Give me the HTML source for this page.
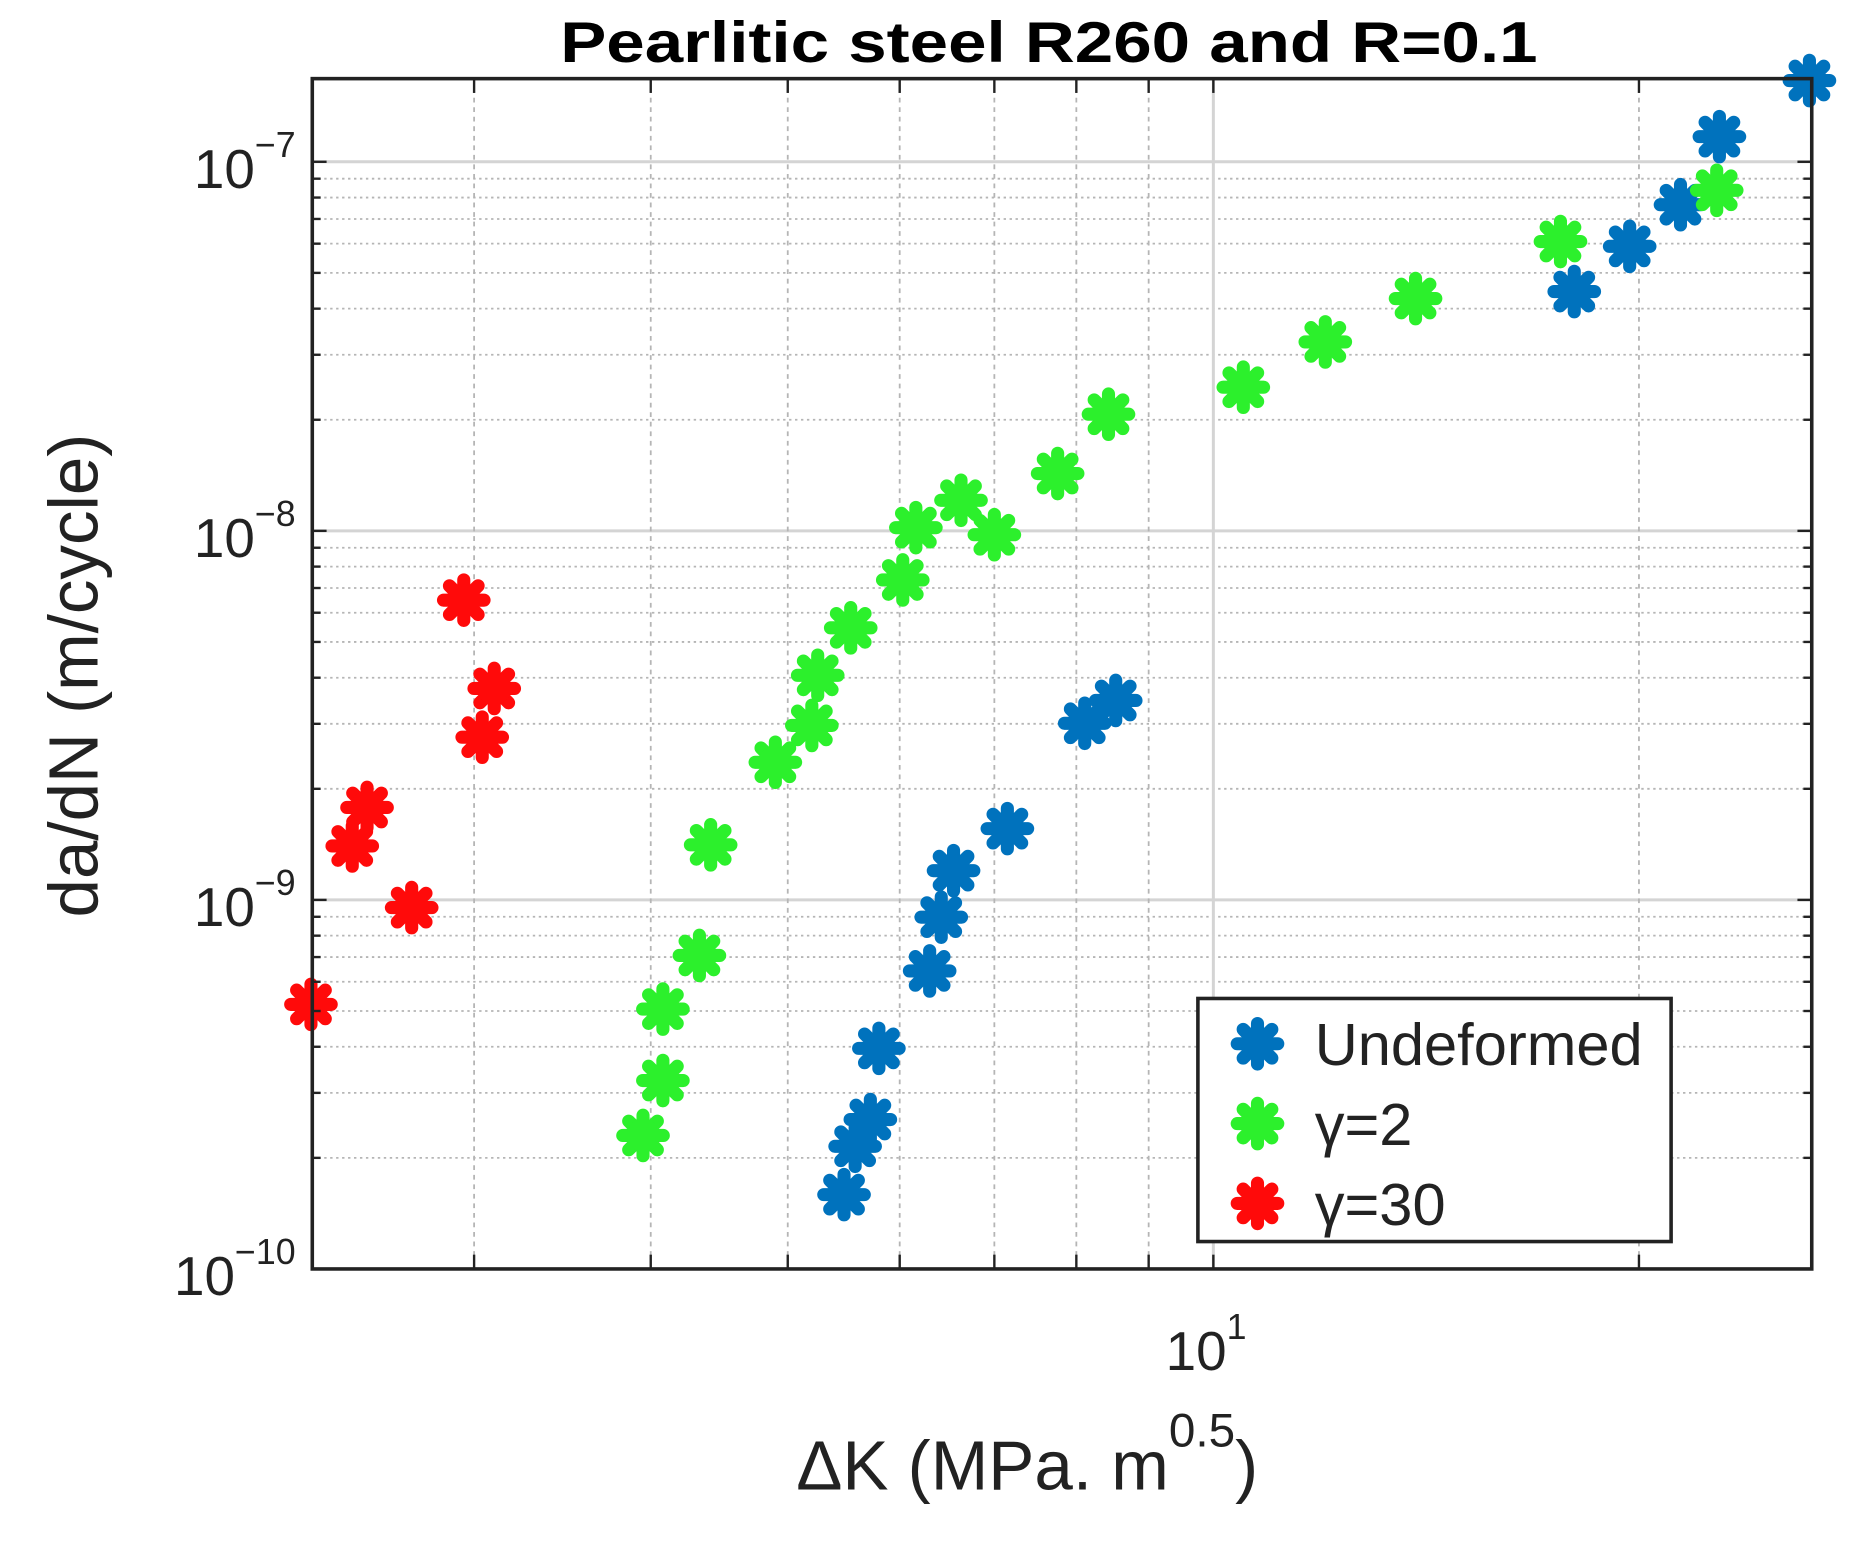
<!DOCTYPE html>
<html><head><meta charset="utf-8"><style>
html,body{margin:0;padding:0;background:#fff;}
svg{display:block;font-family:"Liberation Sans",sans-serif;}
</style></head><body>
<svg id="chart" width="1863" height="1543" viewBox="0 0 1563 1295" preserveAspectRatio="none" xmlns="http://www.w3.org/2000/svg">
<g id="grid"></g>
<g id="marks"></g>
<g id="axes"></g>
<text x="880" y="52" text-anchor="middle" font-size="48" font-weight="bold" textLength="820" lengthAdjust="spacingAndGlyphs">Pearlitic steel R260 and R=0.1</text>
<text x="668" y="1250" font-size="58" fill="#222">ΔK (MPa. m<tspan dy="-36" font-size="40">0.5</tspan><tspan dy="36">)</tspan></text>
<text transform="translate(82,567) rotate(-90)" text-anchor="middle" font-size="58" fill="#222">da/dN (m/cycle)</text>
<g id="legend"></g>
</svg>
<script>
const seriesNames = ["Undeformed", "γ=2", "γ=30"];
const seriesColors = ["#0072bd", "#2cf02c", "#ff0a0a"];
const undeformedX = [26.4, 22.8, 21.4, 19.7, 18.0, 8.53, 8.11, 7.15, 6.55, 6.42, 6.30, 5.80, 5.72, 5.58, 5.48];
const undeformedY = [1.66e-7, 1.17e-7, 7.65e-8, 5.9e-8, 4.45e-8, 3.47e-9, 3.01e-9, 1.56e-9, 1.2e-9, 8.98e-10, 6.42e-10, 3.96e-10, 2.54e-10, 2.15e-10, 1.59e-10];
const gamma2X = [22.7, 17.6, 13.9, 12.0, 10.5, 8.43, 7.76, 6.63, 7.0, 6.16, 6.03, 5.54, 5.25, 5.20, 4.90, 4.41, 4.33, 4.08, 4.08, 3.95];
const gamma2Y = [8.37e-8, 6.08e-8, 4.26e-8, 3.25e-8, 2.45e-8, 2.07e-8, 1.43e-8, 1.21e-8, 9.76e-9, 1.02e-8, 7.36e-9, 5.46e-9, 4.06e-9, 2.97e-9, 2.36e-9, 1.41e-9, 7.07e-10, 5.06e-10, 3.24e-10, 2.3e-10];
const gamma30X = [2.95, 3.10, 3.04, 2.52, 2.46, 2.71, 2.30];
const gamma30Y = [6.49e-9, 3.74e-9, 2.76e-9, 1.78e-9, 1.40e-9, 9.53e-10, 5.21e-10];
const yTickExps = [-7, -8, -9, -10];
const xTickLabels = ["10"];

const L=262,R=1520,T=66,B=1065;
const xMin=2.305,xMax=26.5,yMin=1e-10,yMax=1.68e-7;
const sx=v=>L+(Math.log10(v)-Math.log10(xMin))/(Math.log10(xMax)-Math.log10(xMin))*(R-L);
const sy=v=>B-(Math.log10(v)-Math.log10(yMin))/(Math.log10(yMax)-Math.log10(yMin))*(B-T);
const NS="http://www.w3.org/2000/svg";
function mk(tag,attrs,parent){const e=document.createElementNS(NS,tag);for(const k in attrs)e.setAttribute(k,attrs[k]);parent.appendChild(e);return e;}
const grid=document.getElementById('grid'),axes=document.getElementById('axes'),marks=document.getElementById('marks'),legend=document.getElementById('legend');

for(let d=-10;d<=-7;d++){for(let m=1;m<=9;m++){const v=m*Math.pow(10,d);if(v<yMin||v>yMax)continue;const y=sy(v);
 const ln=mk('line',{x1:L,x2:R,y1:y,y2:y,stroke:m==1?'#d4d4d4':'#b5b5b5','stroke-width':m==1?2.5:1.5,'stroke-dasharray':m==1?'none':'2 3'},grid);
 
 
 const tl=m==1?12:7;
 mk('line',{x1:L,x2:L+tl,y1:y,y2:y,stroke:'#222','stroke-width':2},axes);
 mk('line',{x1:R,x2:R-tl,y1:y,y2:y,stroke:'#222','stroke-width':2},axes);}}
for(const d of [0,1]){for(let m=1;m<=9;m++){const v=m*Math.pow(10,d);if(v<xMin||v>xMax)continue;const x=sx(v);
 const ln=mk('line',{x1:x,x2:x,y1:T,y2:B,stroke:m==1?'#d4d4d4':'#b5b5b5','stroke-width':m==1?2.5:1.5,'stroke-dasharray':m==1?'none':'4 4'},grid);
 
 
 mk('line',{x1:x,x2:x,y1:B,y2:B-12,stroke:'#222','stroke-width':2},axes);
 mk('line',{x1:x,x2:x,y1:T,y2:T+12,stroke:'#222','stroke-width':2},axes);}}
mk('rect',{x:L,y:T,width:R-L,height:B-T,fill:'none',stroke:'#222','stroke-width':3},axes);

yTickExps.forEach(e=>{const y=sy(Math.pow(10,e));
 const t=mk('text',{x:248,y:y+22,'text-anchor':'end','font-size':46,fill:'#222'},axes);
 
 
 t.innerHTML='10<tspan dy="-26" font-size="30">−'+(-e)+'</tspan>';});
xTickLabels.forEach(l=>{const x=sx(10);
 const t=mk('text',{x:x-40,y:1150,'font-size':46,fill:'#222'},axes);
 
 
 t.innerHTML=l+'<tspan dy="-26" font-size="30">1</tspan>';});

function star(g,cx,cy,color){
 for(let i=0;i<4;i++){const a=i*Math.PI/4,dx=Math.cos(a)*17,dy=Math.sin(a)*17;
  mk('line',{x1:cx-dx,y1:cy-dy,x2:cx+dx,y2:cy+dy,stroke:color,'stroke-width':11,'stroke-linecap':'round'},g);}
 mk('circle',{cx:cx,cy:cy,r:14,fill:color},g);}
const allX=[undeformedX,gamma2X,gamma30X],allY=[undeformedY,gamma2Y,gamma30Y];
allX.forEach((xs,s)=>{xs.forEach((xv,i)=>{
 const g=mk('g',{},marks);
 
 
 star(g,sx(xv),sy(allY[s][i]),seriesColors[s]);});});

const lb=mk('rect',{x:1005,y:838,width:397,height:204,fill:'#fff',stroke:'#222','stroke-width':3},legend);


seriesNames.forEach((n,i)=>{const y=876+i*67;
 const g=mk('g',{},legend);
 
 
 star(g,1055,y,seriesColors[i]);
 const t=mk('text',{x:1103,y:y+18,'font-size':50,fill:'#222'},g);
 t.textContent=n;});
</script>
</body></html>
